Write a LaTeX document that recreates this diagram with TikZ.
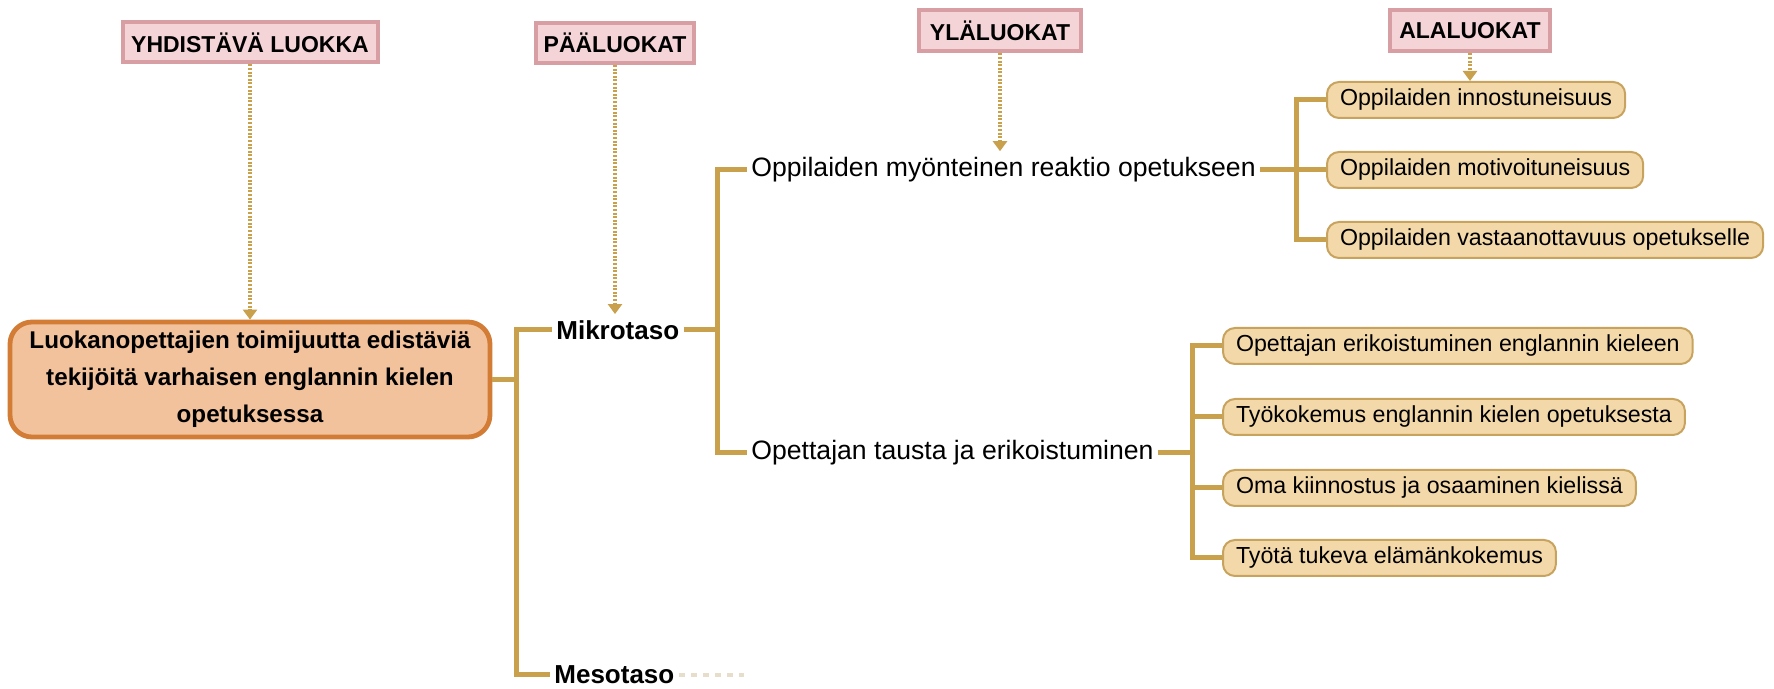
\documentclass[tikz,border=0pt]{standalone}
\usepackage{fontspec}
\setmainfont{Liberation Sans}
\usetikzlibrary{arrows.meta}
\definecolor{hdrfill}{HTML}{F5D4D7}
\definecolor{hdrline}{HTML}{D79EA4}
\definecolor{gold}{HTML}{C9A04C}
\definecolor{rootfill}{HTML}{F2C29D}
\definecolor{rootline}{HTML}{D27C36}
\definecolor{subfill}{HTML}{F3D9AA}
\definecolor{subline}{HTML}{C8A35E}
\definecolor{mesodotc}{HTML}{E6DECB}
\tikzset{
  hdr/.style={draw=hdrline, fill=hdrfill, line width=2pt, inner sep=0pt,
    font=\fontsize{11.5pt}{14pt}\selectfont\bfseries, minimum height=20pt},
  rootbox/.style={draw=rootline, fill=rootfill, line width=2.4pt, rounded corners=11pt,
    minimum width=240pt, minimum height=57.5pt, align=center,
    font=\fontsize{12.1pt}{18.5pt}\selectfont\bfseries},
  lvlone/.style={inner xsep=2pt, inner ysep=3pt, anchor=west,
    font=\fontsize{13pt}{15pt}\selectfont\bfseries},
  lvltwo/.style={inner xsep=2pt, inner ysep=3pt, anchor=west,
    font=\fontsize{13.3pt}{15pt}\selectfont},
  subbox/.style={draw=subline, fill=subfill, line width=1pt, rounded corners=6pt,
    anchor=west, inner xsep=6.5pt, inner ysep=0pt, minimum height=18pt,
    font=\fontsize{11.6pt}{14pt}\selectfont},
  conn/.style={draw=gold, line width=2.5pt},
  dotarrow/.style={draw=gold, line width=2.2pt, dash pattern=on 1pt off 0.8pt,
    -{Triangle[width=7pt,length=5pt,fill=gold]}},
  mesodots/.style={draw=mesodotc, line width=2.4pt, dash pattern=on 3pt off 3pt}
}
\begin{document}
\begin{tikzpicture}[x=0.5pt,y=-0.5pt]
\useasboundingbox (0,0) rectangle (1774,689);
% headers
\node[hdr, minimum width=127.5pt] (h1) at (250,42.5) {YHDISTÄVÄ LUOKKA};
\node[hdr, minimum width=79pt] (h2) at (615,43) {PÄÄLUOKAT};
\node[hdr, minimum width=81pt, minimum height=20.5pt] (h3) at (1000,31) {YLÄLUOKAT};
\node[hdr, minimum width=80pt, minimum height=20.5pt] (h4) at (1470,31) {ALALUOKAT};
% root
\node[rootbox] (root) at (250,379.5) {Luokanopettajien toimijuutta edistäviä\\tekijöitä varhaisen englannin kielen\\opetuksessa};
% level 1
\node[lvlone] (mikro) at (552,330) {Mikrotaso};
\node[lvlone] (meso) at (550,675) {Mesotaso};
% level 2
\node[lvltwo] (p1) at (747,170) {Oppilaiden myönteinen reaktio opetukseen};
\node[lvltwo] (p2) at (747,453) {Opettajan tausta ja erikoistuminen};
% level 3 upper
\node[subbox] (b1) at (1326,100) {Oppilaiden innostuneisuus};
\node[subbox] (b2) at (1326,170) {Oppilaiden motivoituneisuus};
\node[subbox] (b3) at (1326,240) {Oppilaiden vastaanottavuus opetukselle};
% level 3 lower
\node[subbox] (c1) at (1222,346) {Opettajan erikoistuminen englannin kieleen};
\node[subbox] (c2) at (1222,417) {Työkokemus englannin kielen opetuksesta};
\node[subbox] (c3) at (1222,488) {Oma kiinnostus ja osaaminen kielissä};
\node[subbox] (c4) at (1222,558) {Työtä tukeva elämänkokemus};
% junctions
\coordinate (j0) at (516,379.5);
\coordinate (j1) at (717,330);
\coordinate (j2) at (1296,170);
\coordinate (j3) at (1192,453);
\coordinate (mesoend) at (744,675);
% connectors
\draw[conn] (root.east) -- (j0);
\draw[conn] (mikro.west) -| (j0) |- (meso.west);
\draw[conn] (mikro.east) -- (j1);
\draw[conn] (p1.west) -| (j1) |- (p2.west);
\draw[conn] (p1.east) -- (j2);
\draw[conn] (b1.west) -| (j2) |- (b3.west);
\draw[conn] (j2) -- (b2.west);
\draw[conn] (p2.east) -- (j3);
\draw[conn] (c1.west) -| (j3) |- (c4.west);
\draw[conn] (c2.west -| j3) -- (c2.west);
\draw[conn] (c3.west -| j3) -- (c3.west);
\draw[mesodots] (meso.east) -- (mesoend);
% header arrows
\draw[dotarrow] (h1.south) -- (h1.south |- root.north);
\draw[dotarrow] (h2.south) -- (h2.south |- mikro.north);
\draw[dotarrow] (h3.south) -- (h3.south |- p1.north);
\draw[dotarrow] (h4.south) -- (h4.south |- b1.north);
\end{tikzpicture}
\end{document}
